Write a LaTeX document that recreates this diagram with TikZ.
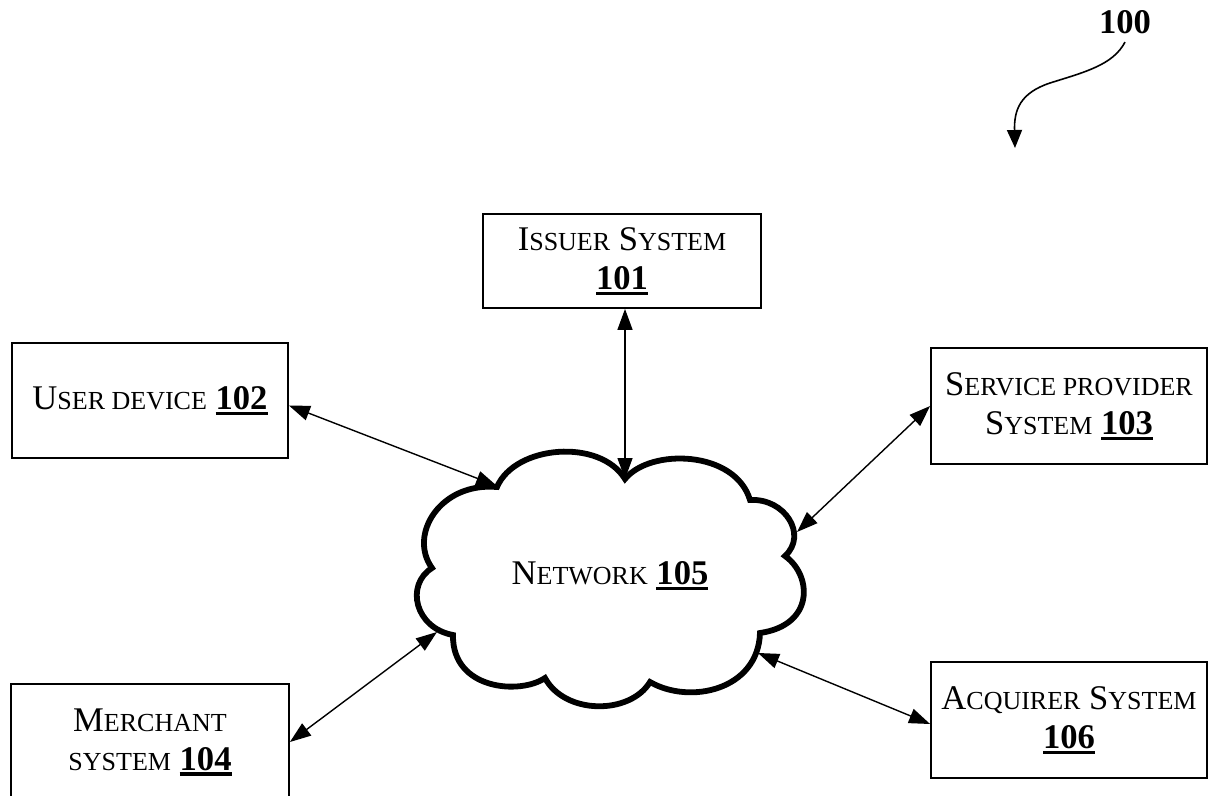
\documentclass[tikz,border=0pt]{standalone}
\usepackage{fontspec}
\setmainfont{Liberation Serif}
\usetikzlibrary{arrows.meta,calc}

% faked small capitals and underlined bold reference numerals
\newcommand\smc[1]{{\fontsize{13}{15}\selectfont #1}}
\newcommand\refnum[1]{\leavevmode\setbox0\hbox{\bfseries #1}\vtop{\copy0\kern1pt\hrule height1.6pt}}

\begin{document}
\begin{tikzpicture}[x=0.5pt,y=-0.5pt,
  box/.style={draw, line width=0.9pt, align=center, inner sep=0pt,
    minimum width=138pt, minimum height=58pt,
    font=\fontsize{17.3}{19.5}\selectfont},
  link/.style={line width=0.7pt,
    {Triangle[length=10.5pt,width=7.5pt]}-{Triangle[length=10.5pt,width=7.5pt]}},
  cloudline/.style={line width=2.9pt, line join=miter, miter limit=20}]

\useasboundingbox (0,0) rectangle (1208,796);
\begin{scope}
\clip (0,0) rectangle (1208,796);

% system boxes
\node[box, minimum width=139pt, minimum height=47pt] (issuer) at (622,261)
  {I\smc{SSUER} S\smc{YSTEM}\\\refnum{101}};
\node[box, minimum height=57.5pt] (user) at (150,400.5)
  {U\smc{SER DEVICE} \refnum{102}};
\node[box] (service) at (1069,406)
  {S\smc{ERVICE PROVIDER}\\S\smc{YSTEM} \refnum{103}};
\node[box, minimum width=139pt] (merchant) at (150,742)
  {M\smc{ERCHANT}\\\smc{SYSTEM} \refnum{104}};
\node[box] (acquirer) at (1069,720)
  {A\smc{CQUIRER} S\smc{YSTEM}\\\refnum{106}};

% network cloud
\draw[cloudline]
  (497,487) .. controls (515,445) and (600,438) .. (625,479)
  .. controls (650,448) and (735,450) .. (750,500)
  .. controls (785,498) and (808,535) .. (785,556)
  .. controls (812,575) and (815,625) .. (760,633)
  .. controls (758,690) and (690,705) .. (650,682)
  .. controls (630,715) and (565,715) .. (545,678)
  .. controls (520,695) and (452,690) .. (453,635)
  .. controls (415,628) and (405,585) .. (432,568)
  .. controls (408,535) and (440,482) .. cycle;
\node[font=\fontsize{17.3}{19.5}\selectfont] (network) at (610,576)
  {N\smc{ETWORK} \refnum{105}};

% attachment points on the cloud outline
\coordinate (cT) at (625,479);
\coordinate (cU) at (497,486);
\coordinate (cR) at (797,532);
\coordinate (cL) at (437,632);
\coordinate (cB) at (758,653);

% connections
\draw[link] ([xshift=1.5pt]issuer.south) -- (cT);
\draw[link] ([yshift=-2.5pt]user.east) -- (cU);
\draw[link] (service.west) -- (cR);
\draw[link] (merchant.east) -- (cL);
\draw[link] ([yshift=-2pt]acquirer.west) -- (cB);

% figure reference
\node[font=\bfseries\fontsize{17.3}{20}\selectfont, inner sep=4pt] (fig) at (1125,22) {100};
\coordinate (figtip) at (1015,148);
\draw[line width=0.8pt, -{Triangle[length=9pt,width=7.5pt]}]
  (fig.south) .. controls (1113,65) and (1085,72) .. (1050,83)
  .. controls (1020,93) and (1014,110) .. (figtip);
\end{scope}
\end{tikzpicture}
\end{document}
